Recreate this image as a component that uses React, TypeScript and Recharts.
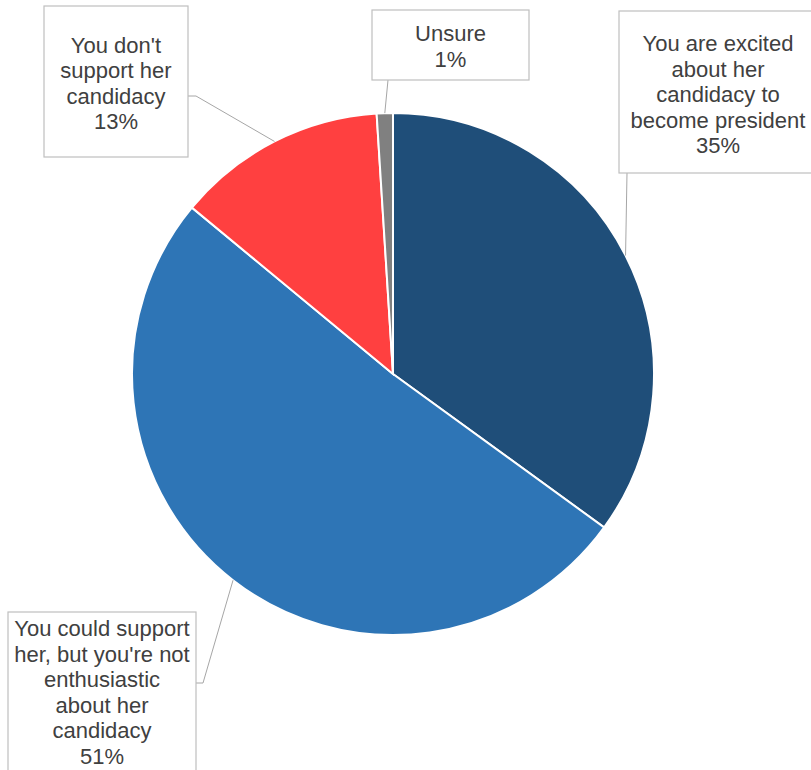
import React from 'react';
import { PieChart, Pie, Cell } from 'recharts';

// survey answers, clockwise from 12 o'clock
const categoryLines: string[][] = [
  ['You are excited', 'about her', 'candidacy to', 'become president'],
  ['You could support', "her, but you're not", 'enthusiastic', 'about her', 'candidacy'],
  ["You don't", 'support her', 'candidacy'],
  ['Unsure'],
];
const shares = [35, 51, 13, 1];
const sliceColors = ['#1F4E79', '#2E75B6', '#FF4040', '#808080'];

const data = categoryLines.map((lines, i) => ({
  name: lines.join(' '),
  value: shares[i],
}));

// callout boxes (layout only)
interface BoxLayout {
  x: number;
  y: number;
  w: number;
  h: number;
  textY: number; // vertical centre of the text block
  attach: [number, number];
  elbow?: [number, number];
}
const boxes: BoxLayout[] = [
  { x: 619, y: 11, w: 198, h: 162, textY: 94, attach: [627, 173] },
  { x: 8, y: 612, w: 188, h: 170, textY: 692, attach: [196, 683], elbow: [203, 683] },
  { x: 44, y: 6, w: 144, h: 151, textY: 83, attach: [188, 96], elbow: [196, 96] },
  { x: 372, y: 10, w: 157, h: 70, textY: 46, attach: [388, 80] },
];

const RADIAN = Math.PI / 180;
const LINE_H = 25.5;

const renderCallout = (props: any) => {
  const { cx, cy, midAngle, outerRadius, index, percent } = props;
  const box = boxes[index];
  const px = cx + outerRadius * Math.cos(-midAngle * RADIAN);
  const py = cy + outerRadius * Math.sin(-midAngle * RADIAN);
  const pts = [[px, py], box.elbow, box.attach].filter(Boolean) as number[][];
  const lines = [...categoryLines[index], `${Math.round(percent * 100)}%`];
  const firstY = box.textY - ((lines.length - 1) * LINE_H) / 2;
  return (
    <g key={`callout-${index}`}>
      <polyline
        points={pts.map((p) => p.join(',')).join(' ')}
        fill="none"
        stroke="#A6A6A6"
        strokeWidth={1}
      />
      <rect x={box.x} y={box.y} width={box.w} height={box.h} fill="#fff" stroke="#BFBFBF" strokeWidth={1.2} />
      <text
        x={box.x + box.w / 2}
        y={firstY}
        textAnchor="middle"
        dominantBaseline="central"
        fontFamily="'Liberation Sans', Arial, sans-serif"
        fontSize={22}
        fill="#404040"
      >
        {lines.map((l, i) => (
          <tspan key={i} x={box.x + box.w / 2} y={firstY + i * LINE_H}>
            {l}
          </tspan>
        ))}
      </text>
    </g>
  );
};

export default function App() {
  return (
    <div style={{ position: 'absolute', left: 0, top: 0, background: '#fff' }}>
      <PieChart width={811} height={770} margin={{ top: 0, right: 0, bottom: 0, left: 0 }}>
        <Pie
          data={data}
          dataKey="value"
          nameKey="name"
          cx={393}
          cy={374}
          outerRadius={261}
          startAngle={90}
          endAngle={-270}
          stroke="#fff"
          strokeWidth={2}
          labelLine={false}
          label={renderCallout}
          isAnimationActive={false}
        >
          {data.map((d, i) => (
            <Cell key={d.name} fill={sliceColors[i]} />
          ))}
        </Pie>
      </PieChart>
    </div>
  );
}
